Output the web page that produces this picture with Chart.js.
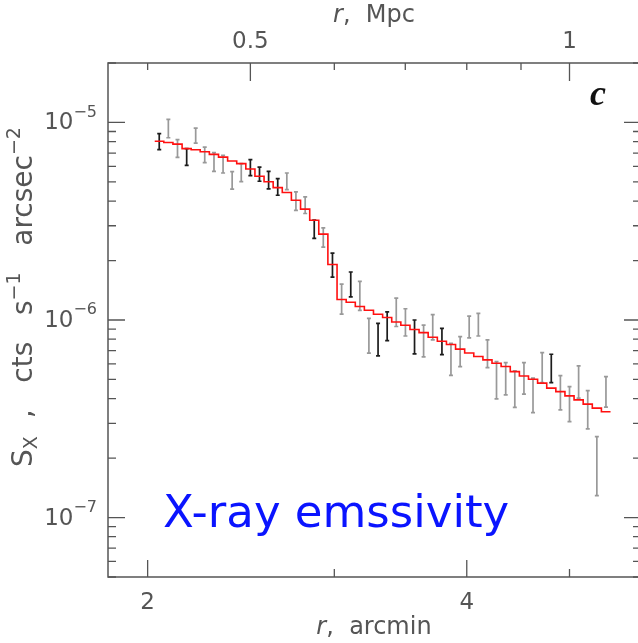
<!DOCTYPE html>
<html>
<head>
<meta charset="utf-8">
<script src="https://cdn.jsdelivr.net/npm/chart.js@4.4.0/dist/chart.umd.min.js"></script>
<style>
  html, body { margin: 0; padding: 0; background: #fff; overflow: hidden; }
  #wrap { width: 660px; height: 643px; }
</style>
</head>
<body>
<div id="wrap"><canvas id="sxChart" width="660" height="643"></canvas></div>
<script>
// annulus radius, arcmin
const radius = [2.051, 2.092, 2.134, 2.177, 2.220, 2.264, 2.310, 2.356, 2.403, 2.451,
                2.500, 2.550, 2.601, 2.653, 2.706, 2.760, 2.816, 2.872, 2.929, 2.988,
                3.048, 3.109, 3.171, 3.234, 3.299, 3.365, 3.432, 3.501, 3.571, 3.642,
                3.715, 3.790, 3.865, 3.943, 4.021, 4.102, 4.184, 4.267, 4.353, 4.440,
                4.529, 4.619, 4.712, 4.806, 4.902, 5.000, 5.100, 5.202, 5.306, 5.412];

// model surface brightness (red histogram)
const model = [8.04e-6, 7.92e-6, 7.77e-6, 7.37e-6, 7.28e-6, 7.11e-6, 6.89e-6, 6.68e-6, 6.38e-6, 6.19e-6,
               5.81e-6, 5.34e-6, 5.01e-6, 4.68e-6, 4.42e-6, 4.04e-6, 3.64e-6, 3.20e-6, 2.72e-6, 1.91e-6,
               1.27e-6, 1.23e-6, 1.17e-6, 1.12e-6, 1.07e-6, 1.03e-6, 9.77e-7, 9.40e-7, 8.95e-7, 8.63e-7,
               8.18e-7, 7.80e-7, 7.52e-7, 7.12e-7, 6.81e-7, 6.54e-7, 6.28e-7, 6.04e-7, 5.82e-7, 5.48e-7,
               5.21e-7, 5.01e-7, 4.79e-7, 4.52e-7, 4.34e-7, 4.13e-7, 3.94e-7, 3.75e-7, 3.58e-7, 3.43e-7];

// measured S_x, upper and lower ends of each error bar
const errHigh = [8.77e-6, 1.036e-5, 8.18e-6, 7.37e-6, 9.36e-6, 7.50e-6, 7.03e-6, 6.81e-6, 5.64e-6, 6.19e-6,
                 6.48e-6, 5.94e-6, 5.66e-6, 5.20e-6, 5.55e-6, 4.45e-6, 4.20e-6, 3.20e-6, 2.93e-6, 2.18e-6,
                 1.52e-6, 1.75e-6, 1.57e-6, 1.02e-6, 9.62e-7, 1.10e-6, 1.29e-6, 1.14e-6, 1.00e-6, 9.43e-7,
                 1.064e-6, 9.08e-7, 7.62e-7, 8.24e-7, 1.047e-6, 1.081e-6, 7.93e-7, 6.16e-7, 6.09e-7, 5.53e-7,
                 6.09e-7, 5.08e-7, 6.84e-7, 6.71e-7, 5.23e-7, 4.60e-7, 5.86e-7, 4.39e-7, 2.57e-7, 5.17e-7];
const errLow = [7.28e-6, 8.37e-6, 6.66e-6, 6.06e-6, 7.86e-6, 6.26e-6, 5.66e-6, 5.55e-6, 4.60e-6, 5.02e-6,
                5.38e-6, 5.04e-6, 4.61e-6, 4.28e-6, 4.57e-6, 3.59e-6, 3.46e-6, 2.59e-6, 2.34e-6, 1.65e-6,
                1.07e-6, 1.31e-6, 1.12e-6, 6.79e-7, 6.58e-7, 7.86e-7, 9.27e-7, 8.30e-7, 6.73e-7, 6.50e-7,
                7.93e-7, 6.68e-7, 5.24e-7, 5.81e-7, 8.11e-7, 8.30e-7, 5.74e-7, 3.99e-7, 4.18e-7, 3.61e-7,
                4.21e-7, 3.40e-7, 4.82e-7, 4.82e-7, 3.51e-7, 3.06e-7, 4.02e-7, 2.81e-7, 1.29e-7, 3.62e-7];

// bins drawn in black instead of grey
const darkBins = [0, 3, 10, 11, 12, 13, 17, 19, 21, 24, 25, 28, 31, 43];

const arcminTicks = [2, 3, 4, 5];
const arcminLabels = ['2', '', '4', ''];
const mpcTicks = [0.4, 0.5, 0.6, 0.7, 0.8, 0.9, 1.0];
const mpcLabels = ['', '0.5', '', '', '', '', '1'];
const yDecades = [-8, -7, -6, -5];

const X_MIN = 1.835, X_MAX = 5.84;
const Y_MIN = 5e-8, Y_MAX = 2e-5;
const FONT = '"DejaVu Sans", sans-serif';
const INK = '#555';

// half-bin edges so the histogram runs past the first and last bar
const stepPoints = [{ x: 2.031, y: model[0] }]
  .concat(radius.map((r, i) => ({ x: r, y: model[i] })))
  .concat([{ x: 5.466, y: model[model.length - 1] }]);

function drawRich(ctx, parts, x, y) {
  // parts: [text, size, shift, italic]
  let w = 0;
  parts.forEach(p => {
    ctx.font = (p[3] ? 'italic ' : '') + p[1] + 'px ' + FONT;
    w += ctx.measureText(p[0]).width;
  });
  let cx = x - w / 2;
  parts.forEach(p => {
    ctx.font = (p[3] ? 'italic ' : '') + p[1] + 'px ' + FONT;
    ctx.fillText(p[0], cx, y + p[2]);
    cx += ctx.measureText(p[0]).width;
  });
}

const errorBars = {
  id: 'errorBars',
  beforeDatasetsDraw(chart) {
    const { ctx, scales: { x, y } } = chart;
    ctx.save();
    ctx.lineWidth = 1.7;
    radius.forEach((r, i) => {
      const px = x.getPixelForValue(r);
      const top = y.getPixelForValue(errHigh[i]);
      const bot = y.getPixelForValue(errLow[i]);
      ctx.strokeStyle = darkBins.includes(i) ? '#1c1c1c' : '#999';
      ctx.beginPath();
      ctx.moveTo(px, top); ctx.lineTo(px, bot);
      ctx.moveTo(px - 2, top); ctx.lineTo(px + 2, top);
      ctx.moveTo(px - 2, bot); ctx.lineTo(px + 2, bot);
      ctx.stroke();
    });
    ctx.restore();
  }
};

const frame = {
  id: 'frame',
  afterDraw(chart) {
    const { ctx, chartArea: a, scales: { x, x2, y } } = chart;
    ctx.save();
    ctx.strokeStyle = INK;
    ctx.lineWidth = 1.5;
    ctx.strokeRect(a.left, a.top, a.right - a.left, a.bottom - a.top);

    ctx.lineWidth = 1.3;
    ctx.beginPath();
    // y ticks, both sides, pointing inward
    y.ticks.forEach(t => {
      const py = y.getPixelForValue(t.value);
      const major = Math.abs(Math.log10(t.value) - Math.round(Math.log10(t.value))) < 1e-6;
      const len = major ? 17 : 8;
      ctx.moveTo(a.left, py); ctx.lineTo(a.left + len, py);
      ctx.moveTo(a.right, py); ctx.lineTo(a.right - len, py);
    });
    x.ticks.forEach(t => {
      const px = x.getPixelForValue(t.value);
      const len = (t.value === 2 || t.value === 4) ? 17 : 8;
      ctx.moveTo(px, a.bottom); ctx.lineTo(px, a.bottom - len);
    });
    x2.ticks.forEach(t => {
      const px = x2.getPixelForValue(t.value);
      const len = (t.value === 0.5 || t.value === 1) ? 18 : 7;
      ctx.moveTo(px, a.top); ctx.lineTo(px, a.top + len);
    });
    ctx.stroke();

    // decade labels 10^n
    ctx.fillStyle = INK;
    ctx.textBaseline = 'middle';
    yDecades.forEach(e => {
      const v = Math.pow(10, e);
      if (v < Y_MIN || v > Y_MAX) return;
      const py = y.getPixelForValue(v);
      ctx.font = '16px ' + FONT;
      const sup = '\u2212' + Math.abs(e);
      const ws = ctx.measureText(sup).width;
      const right = 97;
      ctx.textAlign = 'left';
      ctx.fillText(sup, right - ws, py - 10);
      ctx.font = '23px ' + FONT;
      ctx.textAlign = 'right';
      ctx.fillText('10', right - ws, py + 1);
    });

    // axis titles
    ctx.textAlign = 'left';
    ctx.textBaseline = 'middle';
    drawRich(ctx, [['r', 24, 0, true], [',  Mpc', 24, 0]], 374, 16);
    drawRich(ctx, [['r', 24, 0, true], [',  arcmin', 24, 0]], 374, 628);

    ctx.save();
    ctx.translate(25, 297);
    ctx.rotate(-Math.PI / 2);
    drawRich(ctx, [['S', 28, 0], ['X', 19, 7], ['  ,   cts   s', 28, 0], ['\u22121', 19, -10],
                   ['   arcsec', 28, 0], ['\u22122', 19, -10]], 0, 0);
    ctx.restore();

    // panel letter
    ctx.textAlign = 'center';
    ctx.font = 'bold italic 36px "Liberation Serif", serif';
    ctx.fillStyle = '#111';
    ctx.fillText('c', 598, 96);

    // annotation
    ctx.font = '45px ' + FONT;
    ctx.fillStyle = '#0a14ff';
    ctx.textAlign = 'left';
    ctx.fillText('X-ray emssivity', 163, 515);
    ctx.restore();
  }
};

new Chart(document.getElementById('sxChart').getContext('2d'), {
  type: 'line',
  data: {
    datasets: [{
      label: 'model',
      data: stepPoints,
      stepped: 'middle',
      borderColor: '#ff1010',
      borderWidth: 1.6,
      pointRadius: 0,
      fill: false
    }]
  },
  options: {
    responsive: false,
    animation: false,
    events: [],
    layout: { padding: { left: 0, right: 19, top: 0, bottom: 0 } },
    plugins: { legend: { display: false }, tooltip: { enabled: false } },
    scales: {
      x: {
        type: 'logarithmic',
        position: 'bottom',
        min: X_MIN,
        max: X_MAX,
        afterBuildTicks: s => { s.ticks = arcminTicks.map(v => ({ value: v })); },
        afterFit: s => { s.height = 66; },
        grid: { display: false, drawTicks: false },
        border: { display: false },
        ticks: {
          autoSkip: false,
          maxRotation: 0,
          padding: 12,
          color: INK,
          font: { family: FONT, size: 23 },
          callback: v => arcminLabels[arcminTicks.indexOf(v)] || ''
        }
      },
      x2: {
        axis: 'x',
        type: 'logarithmic',
        position: 'top',
        min: X_MIN / 5,
        max: X_MAX / 5,
        afterBuildTicks: s => { s.ticks = mpcTicks.map(v => ({ value: v })); },
        afterFit: s => { s.height = 63; },
        grid: { display: false, drawTicks: false },
        border: { display: false },
        ticks: {
          autoSkip: false,
          maxRotation: 0,
          padding: 7,
          color: INK,
          font: { family: FONT, size: 23 },
          callback: v => mpcLabels[mpcTicks.indexOf(v)] || ''
        }
      },
      y: {
        type: 'logarithmic',
        min: Y_MIN,
        max: Y_MAX,
        afterBuildTicks: s => {
          const t = [];
          yDecades.forEach(e => {
            for (let m = 1; m <= 9; m++) {
              const v = m * Math.pow(10, e);
              if (v >= Y_MIN * 0.999 && v <= Y_MAX * 1.001) t.push({ value: v });
            }
          });
          s.ticks = t;
        },
        afterFit: s => { s.width = 108; },
        grid: { display: false, drawTicks: false },
        border: { display: false },
        ticks: { display: false }
      }
    }
  },
  plugins: [errorBars, frame]
});
</script>
</body>
</html>
